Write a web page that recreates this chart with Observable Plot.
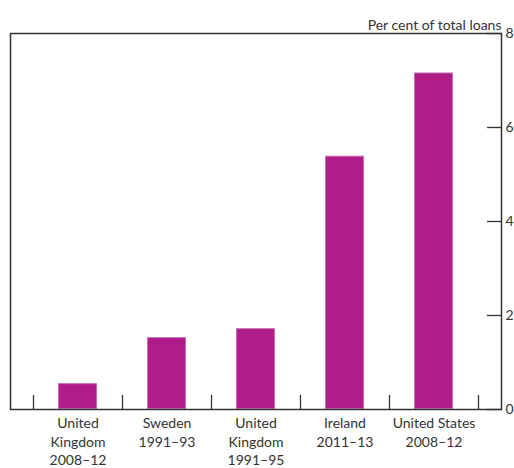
<!DOCTYPE html>
<html><head><meta charset="utf-8">
<script src="https://cdn.jsdelivr.net/npm/d3@7"></script>
<script src="https://cdn.jsdelivr.net/npm/@observablehq/plot@0.6"></script>
<style>body{margin:0;background:#fff;overflow:hidden}</style>
</head><body><div id="chart"></div>
<script>
const categories = ["UK 2008–12", "Sweden 1991–93", "UK 1991–95", "Ireland 2011–13", "US 2008–12"];
const tickLabels = ["United\nKingdom\n2008–12", "Sweden\n1991–93", "United\nKingdom\n1991–95", "Ireland\n2011–13", "United States\n2008–12"];
const values = [0.55, 1.53, 1.72, 5.39, 7.16];
const yTicks = [0, 2, 4, 6, 8];
const unitLabel = "Per cent of total loans";

const W = 514, H = 468, mL = 10, mR = 13, mT = 33, mB = 59, inset = 23;
const step = (W - mL - mR - 2 * inset) / categories.length;
const ph = H - mT - mB;
const data = categories.map((c, i) => ({category: c, value: values[i]}));

const plot = Plot.plot({
  width: W, height: H,
  marginLeft: mL, marginRight: mR, marginTop: mT, marginBottom: mB,
  style: {fontFamily: "Lato, sans-serif", fontSize: "14px", color: "#333", background: "#fff", overflow: "hidden"},
  x: {domain: categories, paddingInner: 0.56, paddingOuter: 0.28, insetLeft: inset, insetRight: inset, label: null},
  y: {domain: [0, 8], label: null},
  marks: [
    Plot.barY(data, {x: "category", y: "value", fill: "#b01c88", stroke: "#c970b4", strokeWidth: 1, inset: 0.5}),
    Plot.ruleX(categories, {x: d => d, dx: -step / 2, insetTop: ph - 14, stroke: "#333", strokeWidth: 1.3}),
    Plot.ruleX([categories[categories.length - 1]], {x: d => d, dx: step / 2, insetTop: ph - 14, stroke: "#333", strokeWidth: 1.3}),
    Plot.axisX({tickSize: 0, tickPadding: 6, tickFormat: d => tickLabels[categories.indexOf(d)], lineHeight: 1.3, fontSize: 14, fill: "#333"}),
    Plot.axisY({anchor: "right", ticks: yTicks, tickSize: -15, tickPadding: 19, label: null, fontSize: 14, fill: "#333", stroke: "#333", strokeWidth: 1.3}),
    Plot.frame({stroke: "#333", strokeWidth: 1.5}),
    Plot.text([unitLabel], {frameAnchor: "top-right", dy: -13, textAnchor: "end", fontSize: 14, fill: "#333"})
  ]
});
document.getElementById("chart").appendChild(plot);
</script>
</body></html>
